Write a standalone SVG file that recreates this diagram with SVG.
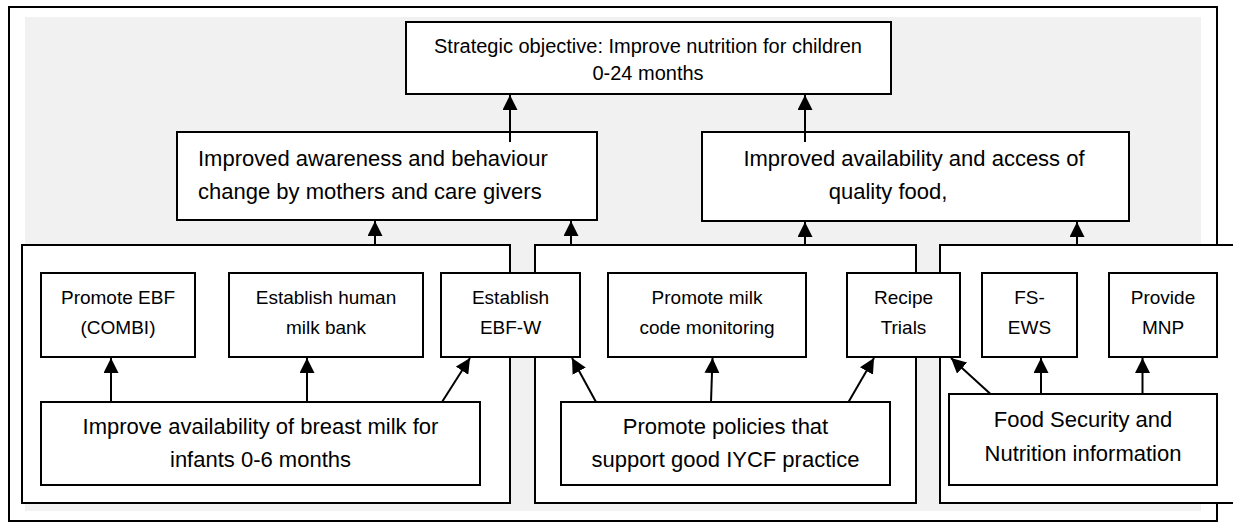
<svg xmlns="http://www.w3.org/2000/svg" width="1233" height="523" viewBox="0 0 1233 523">
<style>
.box{fill:#fff;stroke:#000;stroke-width:2}
.grp{fill:#fff;stroke:#000;stroke-width:2}
.t{font-family:"Liberation Sans",Arial,sans-serif;fill:#000;text-anchor:middle}
.top{font-size:20px}
.mid{font-size:22px}
.sm{font-size:19px}
.big{font-size:22px}
.c{stroke:#000;stroke-width:2;fill:none;marker-end:url(#ah)}
</style>
<defs>
<marker id="ah" markerUnits="userSpaceOnUse" viewBox="0 0 10 10" markerWidth="15" markerHeight="15" refX="10" refY="5" orient="auto">
<path d="M0,0 L10,5 L0,10 z" fill="#000"/>
</marker>
</defs>
<rect x="0" y="0" width="1233" height="523" fill="#fff"/>
<rect id="frame" x="9" y="7" width="1208" height="514" fill="#fff" stroke="#000" stroke-width="2"/>
<rect id="bg" x="25" y="17" width="1176" height="494" fill="#f1f1f1"/>

<g id="group-left"><rect class="grp" x="22" y="245" width="488" height="258"/></g>
<g id="group-mid"><rect class="grp" x="535" y="245" width="381" height="258"/></g>
<g id="group-right"><rect class="grp" x="940" y="245" width="310" height="258"/></g>

<g id="objective">
<rect class="box" x="406" y="22" width="485" height="72"/>
<text class="t top" x="648" y="53">Strategic objective: Improve nutrition for children</text>
<text class="t top" x="648" y="80">0-24 months</text>
</g>
<g id="awareness">
<rect class="box" x="177" y="132" width="420" height="88"/>
<text class="t mid" x="198" y="166" style="text-anchor:start">Improved awareness and behaviour</text>
<text class="t mid" x="198" y="199" style="text-anchor:start">change by mothers and care givers</text>
</g>
<g id="availability">
<rect class="box" x="702" y="132" width="427" height="89"/>
<text class="t mid" x="914" y="166">Improved availability and access of</text>
<text class="t mid" x="888" y="199">quality food,</text>
</g>

<g id="promote-ebf">
<rect class="box" x="41" y="273" width="154" height="84"/>
<text class="t sm" x="118" y="304">Promote EBF</text>
<text class="t sm" x="118" y="334">(COMBI)</text>
</g>
<g id="milk-bank">
<rect class="box" x="229" y="273" width="194" height="84"/>
<text class="t sm" x="326" y="304">Establish human</text>
<text class="t sm" x="326" y="334">milk bank</text>
</g>
<g id="ebf-w">
<rect class="box" x="441" y="273" width="139" height="84"/>
<text class="t sm" x="510.5" y="304">Establish</text>
<text class="t sm" x="510.5" y="334">EBF-W</text>
</g>
<g id="milk-code">
<rect class="box" x="608" y="273" width="198" height="84"/>
<text class="t sm" x="707" y="304">Promote milk</text>
<text class="t sm" x="707" y="334">code monitoring</text>
</g>
<g id="recipe">
<rect class="box" x="847" y="273" width="113" height="84"/>
<text class="t sm" x="903.5" y="304">Recipe</text>
<text class="t sm" x="903.5" y="334">Trials</text>
</g>
<g id="fs-ews">
<rect class="box" x="982" y="273" width="95" height="84"/>
<text class="t sm" x="1029.5" y="304">FS-</text>
<text class="t sm" x="1029.5" y="334">EWS</text>
</g>
<g id="mnp">
<rect class="box" x="1109" y="273" width="108" height="84"/>
<text class="t sm" x="1163" y="304">Provide</text>
<text class="t sm" x="1163" y="334">MNP</text>
</g>

<g id="breast-milk">
<rect class="box" x="41" y="402" width="439" height="83"/>
<text class="t big" x="260.5" y="434">Improve availability of breast milk for</text>
<text class="t big" x="260.5" y="467">infants 0-6 months</text>
</g>
<g id="policies">
<rect class="box" x="561" y="402" width="329" height="83"/>
<text class="t big" x="725.5" y="434">Promote policies that</text>
<text class="t big" x="725.5" y="467">support good IYCF practice</text>
</g>
<g id="fsn-info">
<rect class="box" x="949" y="394" width="268" height="91"/>
<text class="t big" x="1083" y="427">Food Security and</text>
<text class="t big" x="1083" y="461">Nutrition information</text>
</g>

<g id="connectors">
<line class="c" x1="510" y1="142" x2="510" y2="95"/>
<line class="c" x1="805" y1="142" x2="805" y2="95"/>
<line class="c" x1="375" y1="245" x2="375" y2="221"/>
<line class="c" x1="571" y1="245" x2="571" y2="221"/>
<line class="c" x1="805" y1="245" x2="805" y2="222"/>
<line class="c" x1="1077" y1="245" x2="1077" y2="222"/>
<line class="c" x1="111" y1="402" x2="111" y2="358"/>
<line class="c" x1="307" y1="402" x2="307" y2="358"/>
<line class="c" x1="442" y1="402" x2="470" y2="358"/>
<line class="c" x1="596" y1="402" x2="572" y2="358"/>
<line class="c" x1="711" y1="402" x2="712.5" y2="358"/>
<line class="c" x1="848.5" y1="402" x2="874" y2="358"/>
<line class="c" x1="990.5" y1="394" x2="951" y2="358"/>
<line class="c" x1="1041" y1="394" x2="1041" y2="358"/>
<line class="c" x1="1142.5" y1="394" x2="1142.5" y2="358"/>
</g>
</svg>
